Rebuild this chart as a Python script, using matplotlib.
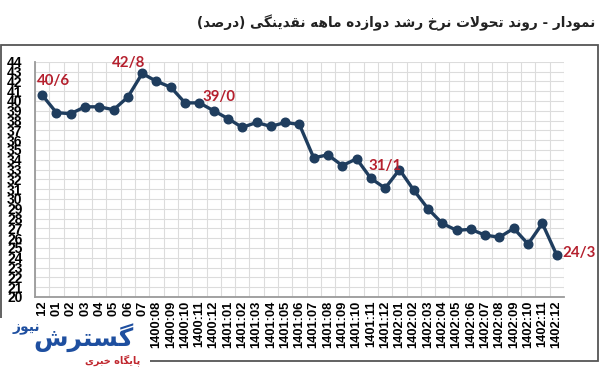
import matplotlib
matplotlib.use("Agg")
import matplotlib.pyplot as plt
from matplotlib.patches import Rectangle
from matplotlib import font_manager as fm

# ---------------- data ----------------
categories = ['1399:12',
              '1400:01', '1400:02', '1400:03', '1400:04', '1400:05', '1400:06',
              '1400:07', '1400:08', '1400:09', '1400:10', '1400:11', '1400:12',
              '1401:01', '1401:02', '1401:03', '1401:04', '1401:05', '1401:06',
              '1401:07', '1401:08', '1401:09', '1401:10', '1401:11', '1401:12',
              '1402:01', '1402:02', '1402:03', '1402:04', '1402:05', '1402:06',
              '1402:07', '1402:08', '1402:09', '1402:10', '1402:11', '1402:12']
growth = [40.6, 38.8, 38.7, 39.4, 39.4, 39.1, 40.4, 42.8, 42.0, 41.4, 39.8, 39.8,
          39.0, 38.2, 37.3, 37.8, 37.4, 37.8, 37.6, 34.2, 34.5, 33.4, 34.1, 32.1,
          31.1, 33.0, 30.9, 29.0, 27.5, 26.8, 26.9, 26.3, 26.1, 27.0, 25.4, 27.5, 24.3]
label_idx = [0, 7, 12, 24, 36]
label_txt = ['40/6', '42/8', '39/0', '31/1', '24/3']
y_ticks = list(range(20, 45))

title_text = 'نمودار - روند تحولات نرخ رشد دوازده ماهه نقدینگی (درصد)'
logo_main = 'گسترش'
logo_small = 'نیوز'
logo_sub = 'پایگاه خبری'

# ---------------- Persian shaping (matplotlib has no text shaping) ----------------
FORMS = {
    'ا': ('\uFE8D', '\uFE8E', None, None),
    'ب': ('\uFE8F', '\uFE90', '\uFE91', '\uFE92'),
    'پ': ('\uFB56', '\uFB57', '\uFB58', '\uFB59'),
    'ت': ('\uFE95', '\uFE96', '\uFE97', '\uFE98'),
    'ح': ('\uFEA1', '\uFEA2', '\uFEA3', '\uFEA4'),
    'خ': ('\uFEA5', '\uFEA6', '\uFEA7', '\uFEA8'),
    'د': ('\uFEA9', '\uFEAA', None, None),
    'ر': ('\uFEAD', '\uFEAE', None, None),
    'ز': ('\uFEAF', '\uFEB0', None, None),
    'س': ('\uFEB1', '\uFEB2', '\uFEB3', '\uFEB4'),
    'ش': ('\uFEB5', '\uFEB6', '\uFEB7', '\uFEB8'),
    'ص': ('\uFEB9', '\uFEBA', '\uFEBB', '\uFEBC'),
    'ق': ('\uFED5', '\uFED6', '\uFED7', '\uFED8'),
    'گ': ('\uFB92', '\uFB93', '\uFB94', '\uFB95'),
    'ل': ('\uFEDD', '\uFEDE', '\uFEDF', '\uFEE0'),
    'م': ('\uFEE1', '\uFEE2', '\uFEE3', '\uFEE4'),
    'ن': ('\uFEE5', '\uFEE6', '\uFEE7', '\uFEE8'),
    'ه': ('\uFEE9', '\uFEEA', '\uFEEB', '\uFEEC'),
    'و': ('\uFEED', '\uFEEE', None, None),
    'ی': ('\uFBFC', '\uFBFD', '\uFBFE', '\uFBFF'),
}
LAM_ALEF = ('\uFEFB', '\uFEFC')


def shape(text):
    chars = list(text)
    n = len(chars)
    out = []

    def joins_next(c):
        return c in FORMS and FORMS[c][2] is not None

    i = 0
    while i < n:
        c = chars[i]
        if c not in FORMS:
            out.append(c)
            i += 1
            continue
        prev = chars[i - 1] if i > 0 else None
        prev_conn = prev is not None and joins_next(prev)
        if c == 'ل' and i + 1 < n and chars[i + 1] == 'ا':
            out.append(LAM_ALEF[1] if prev_conn else LAM_ALEF[0])
            i += 2
            continue
        nxt = chars[i + 1] if i + 1 < n else None
        next_conn = joins_next(c) and nxt in FORMS
        iso, fin, ini, med = FORMS[c]
        if prev_conn and next_conn:
            g = med
        elif prev_conn:
            g = fin
        elif next_conn:
            g = ini
        else:
            g = iso
        out.append(g)
        i += 1
    s = ''.join(out)[::-1]
    return s.translate(str.maketrans('()', ')('))


def pick(*names):
    avail = {f.name for f in fm.fontManager.ttflist}
    for nm in names:
        if nm in avail:
            return nm
    return 'DejaVu Sans'


ytick_font = pick('Liberation Sans Narrow', 'Liberation Sans')
xtick_font = pick('Liberation Sans', 'Arimo')
ann_font = pick('Lato', 'Open Sans')

# ---------------- figure ----------------
W, H = 600, 368
fig = plt.figure(figsize=(W / 100, H / 100), dpi=100)
fig.patch.set_facecolor('white')

left, right = 35 / W, 563.8 / W
bottom, top = 1 - 297 / H, 1 - 61.7 / H
ax = fig.add_axes([left, bottom, right - left, top - bottom])

x = list(range(len(categories)))
line_color = '#1f3d5e'
ax.plot(x, growth, color=line_color, lw=2.4, marker='o', markersize=6.2,
        markerfacecolor=line_color, markeredgecolor=line_color, zorder=3,
        solid_joinstyle='round')

ax.set_xlim(-0.5, len(categories) - 0.5)
ax.set_ylim(20, 44)

ax.set_yticks(y_ticks)
ax.set_yticklabels([str(v) for v in y_ticks], fontfamily=ytick_font,
                   fontweight='bold', fontsize=10, color='black')
ax.set_xticks(x)
ax.set_xticklabels(categories, rotation=90, fontfamily=xtick_font,
                   fontweight='bold', fontsize=9.3, color='black')
ax.set_xticks([i - 0.5 for i in range(len(categories) + 1)], minor=True)
ax.tick_params(axis='y', length=0, pad=9)
ax.tick_params(axis='x', which='both', length=0, pad=2.5)

ax.grid(True, axis='y', which='major', color='#dcdcdc', lw=0.8)
ax.grid(True, axis='x', which='minor', color='#dcdcdc', lw=0.8)
ax.grid(False, axis='x', which='major')
ax.set_axisbelow(True)

for s in ['top', 'right']:
    ax.spines[s].set_visible(False)
for s in ['left', 'bottom']:
    ax.spines[s].set_color('#9a9a9a')
    ax.spines[s].set_linewidth(1.3)

offsets = [(11, 14), (-14, 10), (5, 14), (0, 22), (22, 2)]
for idx, txt, off in zip(label_idx, label_txt, offsets):
    ax.annotate(txt, (idx, growth[idx]), xytext=off, textcoords='offset pixels',
                ha='center', va='center', color='#b5202e', fontsize=10.8,
                fontweight='bold', fontfamily=ann_font, zorder=4)

# outer chart frame
fig.add_artist(Rectangle((1 / W, 1 - 361 / H), 597 / W, (361 - 45) / H,
                         transform=fig.transFigure, fill=False,
                         edgecolor='#555555', lw=1.3, zorder=1))

# title
fig.text(595 / W, 1 - 23 / H, shape(title_text), ha='right', va='center',
         fontsize=9.8, fontweight='bold', color='#222222',
         fontfamily=['DejaVu Sans'])

# logo watermark
fig.add_artist(Rectangle((0, 0), 150 / W, (368 - 318) / H,
                         transform=fig.transFigure, facecolor='white',
                         edgecolor='none', zorder=10))
fig.text(134 / W, 1 - 338 / H, shape(logo_main), ha='right', va='center',
         fontsize=18, fontweight='bold', color='#1e4fa0',
         fontfamily=['DejaVu Sans'], zorder=11)
fig.text(40 / W, 1 - 328 / H, shape(logo_small), ha='right', va='center',
         fontsize=10, fontweight='bold', color='#1e4fa0',
         fontfamily=['DejaVu Sans'], zorder=11)
fig.text(140 / W, 1 - 360 / H, shape(logo_sub), ha='right', va='center',
         fontsize=7, fontweight='bold', color='#c0262d',
         fontfamily=['DejaVu Sans'], zorder=11)

fig.savefig('out.png', dpi=100)
